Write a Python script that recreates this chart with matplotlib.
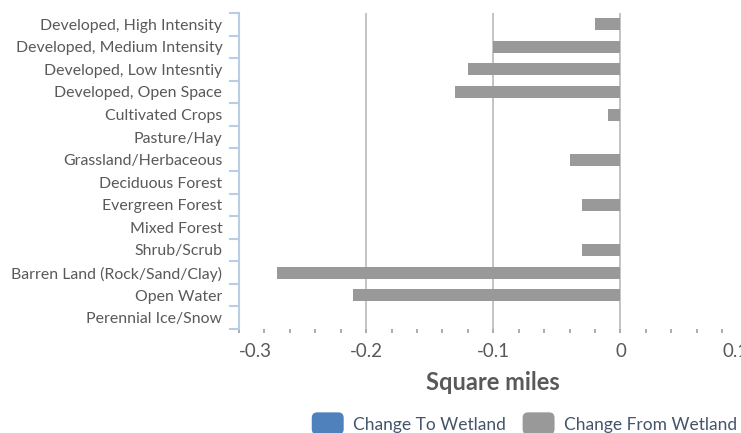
import matplotlib.pyplot as plt
import numpy as np
from matplotlib.patches import FancyBboxPatch, Patch
from matplotlib.legend_handler import HandlerPatch
from matplotlib.transforms import ScaledTranslation

plt.rcParams['font.family'] = ['Lato', 'DejaVu Sans']

categories = ["Developed, High Intensity", "Developed, Medium Intensity",
              "Developed, Low Intesntiy", "Developed, Open Space",
              "Cultivated Crops", "Pasture/Hay", "Grassland/Herbaceous",
              "Deciduous Forest", "Evergreen Forest", "Mixed Forest",
              "Shrub/Scrub", "Barren Land (Rock/Sand/Clay)", "Open Water",
              "Perennial Ice/Snow"]
to_wetland = [0, 0, 0, 0, 0, 0, 0, 0, 0, 0, 0, 0, 0, 0]
from_wetland = [-0.02, -0.10, -0.12, -0.13, -0.01, 0, -0.04, 0, -0.03, 0,
                -0.03, -0.27, -0.21, 0]
xticks = [-0.3, -0.2, -0.1, 0, 0.1]
xticklabels = ["-0.3", "-0.2", "-0.1", "0", "0.1"]

fig = plt.figure(figsize=(7.41, 4.33), dpi=100)
ax = fig.add_axes([0.3225, 0.2402, 0.6865, 0.7298])

y = np.arange(len(categories))
ax.barh(y, to_wetland, height=0.53, color='#4f81bd', zorder=3)
ax.barh(y, from_wetland, height=0.53, color='#999999', zorder=3)

ax.set_ylim(len(categories) - 0.5, -0.5)
ax.set_xlim(-0.3, 0.1)

# y axis: ticks at category boundaries, labels in between
ax.set_yticks(np.arange(len(categories) + 1) - 0.5)
ax.set_yticklabels([])
ax.set_yticks(y, minor=True)
ax.set_yticklabels(categories, minor=True, fontsize=11.45, color='#595959')
ax.tick_params(axis='y', which='major', length=7, width=1.5, color='#b9cde5',
               direction='out')
ax.tick_params(axis='y', which='minor', length=0, pad=12)

# x axis
ax.set_xticks(xticks)
ax.set_xticklabels(xticklabels, fontsize=13.5, color='#595959')
ax.set_xticks(np.arange(-0.3, 0.1001, 0.02), minor=True)
ax.tick_params(axis='x', which='both', length=3, width=1.3, color='#a6a6a6',
               direction='out', pad=7)
# end labels nudged like excel does
tl = ax.get_xticklabels()
tl[0].set_horizontalalignment('left')
tl[-1].set_horizontalalignment('left')
tl[0].set_transform(tl[0].get_transform() + ScaledTranslation(0.0, 0, fig.dpi_scale_trans))
tl[-1].set_transform(tl[-1].get_transform() + ScaledTranslation(-0.25, 0, fig.dpi_scale_trans))

for v in xticks[1:]:
    ax.axvline(v, color='#bfbfbf', linewidth=1.3, zorder=1)

for s in ['top', 'right', 'bottom']:
    ax.spines[s].set_visible(False)
ax.spines['left'].set_color('#b9cde5')
ax.spines['left'].set_linewidth(1.5)

ax.set_xlabel('Square miles', fontsize=17, fontweight='bold', color='#595959',
              labelpad=8)


class RoundHandler(HandlerPatch):
    def create_artists(self, legend, orig_handle, xdescent, ydescent,
                       width, height, fontsize, trans):
        h = 16
        p = FancyBboxPatch((-xdescent, -ydescent + height / 2 - h / 2), width, h,
                           boxstyle='round,pad=0,rounding_size=4',
                           facecolor=orig_handle.get_facecolor(),
                           edgecolor='none', transform=trans)
        return [p]


handles = [Patch(facecolor='#4f81bd', label='Change To Wetland'),
           Patch(facecolor='#999999', label='Change From Wetland')]
fig.legend(handles=handles, loc='lower right', bbox_to_anchor=(1.016, -0.035),
           ncol=2, frameon=False, fontsize=12.5, labelcolor='#44546a',
           handlelength=1.84, handleheight=0.7, columnspacing=0.95,
           handletextpad=0.55,
           handler_map={Patch: RoundHandler()})

fig.savefig('out.png', dpi=100)
